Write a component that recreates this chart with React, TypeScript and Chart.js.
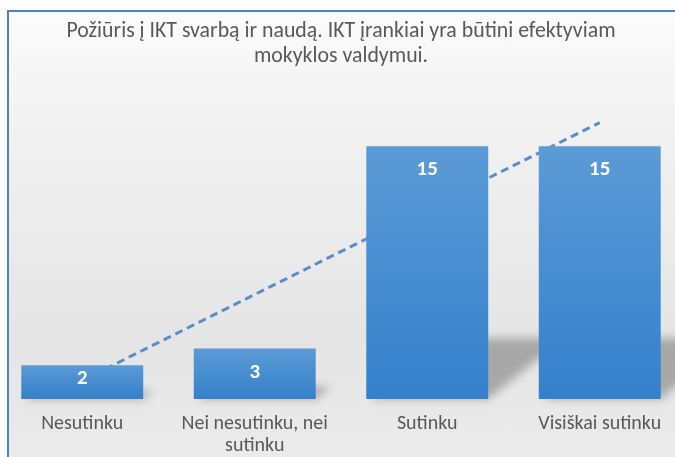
import React, { useEffect, useRef } from "react";
import { Chart, registerables } from "chart.js";

Chart.register(...registerables);

const categories: (string | string[])[] = [
  "Nesutinku",
  ["Nei nesutinku, nei", "sutinku"],
  "Sutinku",
  "Visiškai sutinku",
];
const values = [2, 3, 15, 15];
const titleLines = [
  "Požiūris į IKT svarbą ir naudą. IKT įrankiai yra būtini efektyviam",
  "mokyklos valdymui.",
];
const yMin = 0;
const yMax = 18;

const FONT = "Carlito, Calibri, Lato, 'Open Sans', sans-serif";
const TEXT = "#595959";

// Linear (least-squares) trendline over the series, as Excel draws it
function linearTrend(ys: number[]): number[] {
  const n = ys.length;
  const xs = ys.map((_, i) => i + 1);
  const mx = xs.reduce((a, b) => a + b, 0) / n;
  const my = ys.reduce((a, b) => a + b, 0) / n;
  let sxy = 0, sxx = 0;
  for (let i = 0; i < n; i++) {
    sxy += (xs[i] - mx) * (ys[i] - my);
    sxx += (xs[i] - mx) * (xs[i] - mx);
  }
  const slope = sxy / sxx;
  const icpt = my - slope * mx;
  return xs.map((x) => icpt + slope * x);
}

const shadowPlugin = {
  id: "barShadows",
  beforeDatasetsDraw(chart: any) {
    const meta = chart.getDatasetMeta(0);
    const ctx = chart.ctx as CanvasRenderingContext2D;
    ctx.save();
    ctx.filter = "blur(5px)";
    ctx.fillStyle = "rgba(0,0,0,0.27)";
    meta.data.forEach((bar: any) => {
      const { x, y, base, width } = bar.getProps(["x", "y", "base", "width"], true);
      const h = base - y;
      const sh = h * 0.24;
      const dx = sh * 1.25;
      const L = x - width / 2;
      const R = x + width / 2;
      ctx.beginPath();
      ctx.moveTo(L + 4, base);
      ctx.lineTo(R, base);
      ctx.lineTo(R + dx, base - sh);
      ctx.lineTo(L + dx, base - sh);
      ctx.closePath();
      ctx.fill();
    });
    ctx.restore();
  },
};

const labelPlugin = {
  id: "barLabels",
  afterDatasetsDraw(chart: any) {
    const meta = chart.getDatasetMeta(0);
    const ctx = chart.ctx as CanvasRenderingContext2D;
    ctx.save();
    ctx.fillStyle = "#ffffff";
    ctx.font = `bold 21px ${FONT}`;
    ctx.textAlign = "center";
    ctx.textBaseline = "middle";
    meta.data.forEach((bar: any, i: number) => {
      const { x, y, base } = bar.getProps(["x", "y", "base"], true);
      const h = base - y;
      const cy = y + Math.min(24, h - 20);
      ctx.fillText(String(values[i]), x, cy);
    });
    ctx.restore();
  },
};

export default function App() {
  const ref = useRef<HTMLCanvasElement | null>(null);

  useEffect(() => {
    if (!ref.current) return;
    const trend = linearTrend(values);
    const chart = new Chart(ref.current, {
      type: "bar",
      data: {
        labels: categories as any,
        datasets: [
          {
            type: "bar",
            data: values,
            order: 0,
            categoryPercentage: 1,
            barPercentage: 0.707,
            borderWidth: 0,
            backgroundColor: (c: any) => {
              const chart = c.chart;
              const { chartArea, scales } = chart;
              if (!chartArea || c.type !== "data") return "#4a8fd3";
              const top = scales.y.getPixelForValue(values[c.dataIndex]);
              const bottom = scales.y.getPixelForValue(0);
              const g = chart.ctx.createLinearGradient(0, top, 0, bottom);
              g.addColorStop(0, "#5b9bd6");
              g.addColorStop(1, "#3480cb");
              return g;
            },
          } as any,
          {
            type: "line",
            data: trend,
            order: 1,
            borderColor: "#5a8dcb",
            borderWidth: 3,
            borderDash: [8, 5],
            pointRadius: 0,
            fill: false,
            tension: 0,
          } as any,
        ],
      },
      options: {
        responsive: false,
        animation: false,
        layout: { padding: { top: 0, bottom: 1, left: 0, right: 0 } },
        plugins: {
          legend: { display: false },
          tooltip: { enabled: false },
          title: {
            display: true,
            text: titleLines,
            color: TEXT,
            font: { family: FONT, size: 21.8, weight: "normal", lineHeight: 1.147 },
            padding: { top: 19.5, bottom: 26.1 },
          },
        },
        scales: {
          x: {
            grid: { display: false, drawTicks: false },
            border: { display: false },
            ticks: {
              color: TEXT,
              font: { family: FONT, size: 20, lineHeight: 1.1 },
              padding: 14,
              autoSkip: false,
              maxRotation: 0,
            },
          },
          y: {
            display: false,
            min: yMin,
            max: yMax,
          },
        },
      },
      plugins: [shadowPlugin, labelPlugin],
    });
    return () => chart.destroy();
  }, []);

  return (
    <div
      style={{
        position: "fixed",
        left: 0,
        top: 0,
        width: 675,
        height: 457,
        overflow: "hidden",
        background: "#ffffff",
      }}
    >
      <div
        style={{
          position: "absolute",
          left: 7,
          top: 10,
          width: 720,
          height: 520,
          borderLeft: "2px solid #4f80c8",
          borderTop: "2px solid #4f80c8",
          background:
            "linear-gradient(to bottom, #fbfbfb 0px, #f1f1f1 120px, #e5e5e5 330px, #ebebeb 447px)",
        }}
      />
      <canvas
        ref={ref}
        width={690}
        height={472}
        style={{ position: "absolute", left: -4, top: 0 }}
      />
    </div>
  );
}
